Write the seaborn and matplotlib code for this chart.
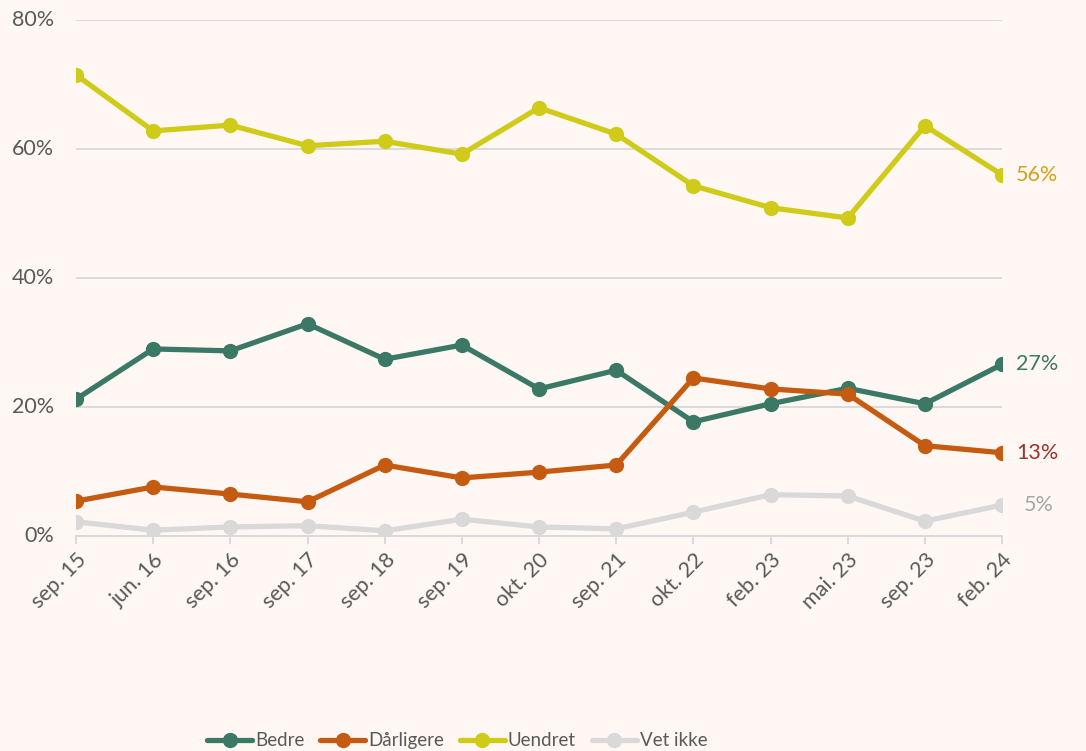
import pandas as pd
import numpy as np
import matplotlib
matplotlib.use("Agg")
import matplotlib.pyplot as plt
import seaborn as sns

periods = ['sep. 15', 'jun. 16', 'sep. 16', 'sep. 17', 'sep. 18', 'sep. 19', 'okt. 20',
           'sep. 21', 'okt. 22', 'feb. 23', 'mai. 23', 'sep. 23', 'feb. 24']
bedre = [21.2, 29.0, 28.7, 32.9, 27.4, 29.6, 22.8, 25.7, 17.7, 20.5, 22.9, 20.5, 26.6]
darligere = [5.4, 7.6, 6.5, 5.3, 11.0, 9.0, 9.9, 11.0, 24.5, 22.8, 22.0, 14.0, 12.9]
uendret = [71.5, 62.8, 63.7, 60.5, 61.2, 59.2, 66.4, 62.3, 54.3, 50.9, 49.3, 63.6, 56.0]
vet_ikke = [2.2, 0.9, 1.4, 1.6, 0.8, 2.6, 1.4, 1.1, 3.7, 6.4, 6.2, 2.3, 4.8]

series = ['Bedre', 'Dårligere', 'Uendret', 'Vet ikke']
colors = ['#3B7866', '#C55A11', '#CFCB18', '#D9D9D9']
label_colors = ['#3B7866', '#A0322B', '#D4A017', '#A6A6A6']
label_offsets = [10, 10, 10, 16]

df = pd.DataFrame({
    'x': list(range(len(periods))) * 4,
    'value': bedre + darligere + uendret + vet_ikke,
    'serie': [s for s in series for _ in periods],
})

bg = '#FFF7F3'
sns.set_theme(style='white')
plt.rcParams['font.family'] = ['Lato', 'DejaVu Sans']

fig = plt.figure(figsize=(10.86, 7.51), dpi=100, facecolor=bg)
ax = fig.add_axes([0.07, 0.2863, 0.8527, 0.6871])
ax.set_facecolor(bg)

sns.lineplot(data=df, x='x', y='value', hue='serie', palette=colors,
             marker='o', markersize=11, markeredgewidth=0, linewidth=3.8,
             legend=False, ax=ax)

ax.set_xlim(0, len(periods) - 1)
ax.set_ylim(0, 80)
ax.set_yticks([0, 20, 40, 60, 80])
ax.set_yticklabels([f'{v}%' for v in [0, 20, 40, 60, 80]])
ax.set_xticks(range(len(periods)))
ax.set_xticklabels(periods, rotation=45, ha='right', rotation_mode='anchor')
ax.set_xlabel('')
ax.set_ylabel('')
ax.grid(axis='y', color='#D9D9D9', linewidth=1.3)
ax.set_axisbelow(True)
for s in ['left', 'right', 'top']:
    ax.spines[s].set_visible(False)
ax.spines['bottom'].set_color('#D9D9D9')
ax.spines['bottom'].set_linewidth(1.3)
ax.tick_params(axis='x', colors='#D9D9D9', length=6, width=1.3, labelcolor='#595959',
               labelsize=15.5, pad=4, bottom=True)
ax.tick_params(axis='y', length=0, labelcolor='#595959', labelsize=15.5, pad=16)
for lab in ax.get_yticklabels():
    lab.set_verticalalignment('center')

# end labels
for vals, c, off in zip([bedre, darligere, uendret, vet_ikke], label_colors, label_offsets):
    last = vals[-1]
    ax.annotate(f'{round(last):.0f}%', (len(periods) - 1, last), xytext=(off, 0),
                textcoords='offset points', va='center', ha='left', color=c,
                fontsize=15.5, annotation_clip=False)

handles = [plt.Line2D([], [], color=c, linewidth=3.8, marker='o', markersize=11,
                      markeredgewidth=0) for c in colors]
fig.legend(handles, series, loc='lower center', bbox_to_anchor=(0.421, -0.020), ncol=4,
           frameon=False, fontsize=13.5, handlelength=2.4, handletextpad=0.15,
           columnspacing=0.85, labelcolor='#595959')

fig.savefig('out.png', dpi=100, facecolor=bg)
